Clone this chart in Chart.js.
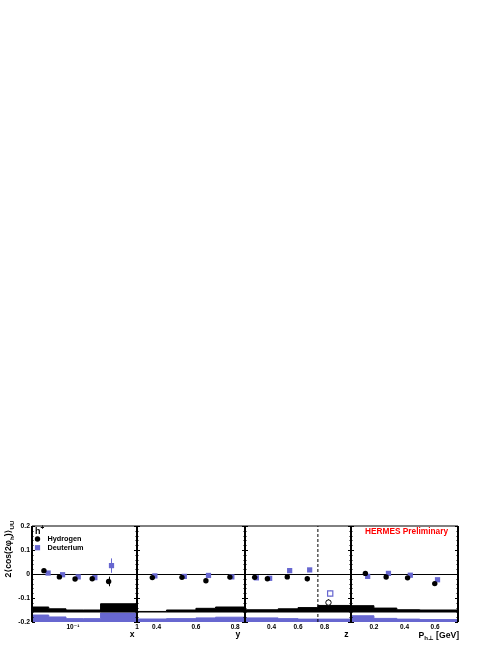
<!DOCTYPE html>
<html>
<head>
<meta charset="utf-8">
<script src="https://cdn.jsdelivr.net/npm/chart.js@4.4.0/dist/chart.umd.min.js"></script>
<style>
  html, body { margin: 0; padding: 0; background: #fff; }
  #wrap { position: relative; width: 498px; height: 645px; }
  #wrap canvas { position: absolute; left: 0; top: 0; }
</style>
</head>
<body>
<div id="wrap">
  <canvas id="panelX" width="498" height="645"></canvas>
  <canvas id="panelY" width="498" height="645"></canvas>
  <canvas id="panelZ" width="498" height="645"></canvas>
  <canvas id="panelP" width="498" height="645"></canvas>
</div>
<script>
// ---- data ----
// x panel (log scale)
const xH = [0.0353, 0.0615, 0.108, 0.200, 0.361];
const valXH = [0.014, -0.012, -0.021, -0.020, -0.031];
const errXH = [0.005, 0.004, 0.004, 0.005, 0.020];
const xD = [0.041, 0.069, 0.121, 0.220, 0.400];
const valXD = [0.004, -0.003, -0.012, -0.015, 0.035];
const errXD = [0.005, 0.004, 0.004, 0.005, 0.030];
const xBinEdges = [0.023, 0.042, 0.078, 0.145, 0.27, 1];
const xSysH = [-0.1375, -0.145, -0.150, -0.150, -0.124];
const xSysD = [-0.171, -0.179, -0.186, -0.186, -0.1625];

// y panel
const yH = [0.378, 0.529, 0.651, 0.773];
const valYH = [-0.015, -0.014, -0.028, -0.013];
const errYH = [0.004, 0.004, 0.004, 0.005];
const yD = [0.391, 0.541, 0.664, 0.783];
const valYD = [-0.008, -0.010, -0.006, -0.012];
const errYD = [0.004, 0.004, 0.004, 0.005];
const yBinEdges = [0.3, 0.45, 0.6, 0.7, 0.85];
const ySysH = [-0.156, -0.150, -0.143, -0.1375];
const ySysD = [-0.1875, -0.186, -0.183, -0.180];

// z panel
const zH = [0.273, 0.369, 0.519, 0.670];
const valZH = [-0.014, -0.020, -0.012, -0.020];
const errZH = [0.004, 0.004, 0.005, 0.010];
const zD = [0.286, 0.386, 0.537, 0.688];
const valZD = [-0.016, -0.018, 0.014, 0.017];
const errZD = [0.004, 0.004, 0.005, 0.006];
const zHout = [0.830];
const valZHout = [-0.119];
const errZHout = [0.014];
const zDout = [0.843];
const valZDout = [-0.081];
const errZDout = [0.012];
const zCut = 0.75;
const zBinEdges = [0.2, 0.45, 0.6, 0.75, 1.0];
const zSysH = [-0.149, -0.145, -0.140, -0.131];
const zSysD = [-0.183, -0.186, -0.188, -0.188];

// Ph_perp panel
const pH = [0.144, 0.280, 0.420, 0.598];
const valPH = [0.0025, -0.0125, -0.016, -0.040];
const errPH = [0.004, 0.004, 0.005, 0.006];
const pD = [0.159, 0.295, 0.438, 0.616];
const valPD = [-0.010, 0.0025, -0.005, -0.024];
const errPD = [0.004, 0.004, 0.005, 0.006];
const pBinEdges = [0.05, 0.2, 0.35, 0.5, 0.75];
const pSysH = [-0.132, -0.142, -0.149, -0.150];
const pSysD = [-0.174, -0.185, -0.188, -0.190];

// tick labels
const yAxisTicks = [-0.2, -0.1, 0, 0.1, 0.2];
const xTicks = [0.1, 1];
const yTicks = [0.4, 0.6, 0.8];
const zTicks = [0.4, 0.6, 0.8];
const pTicks = [0.2, 0.4, 0.6];

const sysBaseH = -0.16;
const sysBaseD = -0.2;

// ---- styling ----
const BLUE = '#6767d0';
const FONT = '"Liberation Sans", "DejaVu Sans", Arial, sans-serif';
const FRAME_TOP = 526;
const PANEL_EDGES = [32, 137, 245, 351, 458];

function pts(xs, ys) {
    return xs.map((x, i) => ({ x: x, y: ys[i] }));
}

function stepPts(edges, vals) {
    const out = vals.map((v, i) => ({ x: edges[i], y: v }));
    out.push({ x: edges[edges.length - 1], y: vals[vals.length - 1] });
    return out;
}

function hydrogen(xs, ys, errs, open) {
    return {
        data: pts(xs, ys), errors: errs, errorColor: '#000', showLine: false,
        pointStyle: 'circle', pointRadius: 2.7,
        pointBackgroundColor: open ? '#fff' : '#000',
        pointBorderColor: '#000', pointBorderWidth: open ? 1 : 0
    };
}

function deuterium(xs, ys, errs, open) {
    return {
        data: pts(xs, ys), errors: errs, errorColor: BLUE, showLine: false,
        pointStyle: 'rect', pointRadius: 3.7,
        pointBackgroundColor: open ? '#fff' : BLUE,
        pointBorderColor: BLUE, pointBorderWidth: open ? 1.2 : 0
    };
}

function band(edges, vals, color, base) {
    return {
        data: stepPts(edges, vals), stepped: true, pointRadius: 0,
        borderColor: color, borderWidth: 1, backgroundColor: color,
        fill: { value: base }
    };
}

// error bars drawn through the chart scales
const errorBars = {
    id: 'errorBars',
    beforeDatasetsDraw(chart) {
        const { ctx, scales: { x, y } } = chart;
        chart.data.datasets.forEach(ds => {
            if (!ds.errors) return;
            ctx.save();
            ctx.strokeStyle = ds.errorColor;
            ctx.lineWidth = 1;
            ds.data.forEach((p, i) => {
                const e = ds.errors[i];
                const px = Math.round(x.getPixelForValue(p.x)) + 0.5;
                ctx.beginPath();
                ctx.moveTo(px, y.getPixelForValue(p.y - e));
                ctx.lineTo(px, y.getPixelForValue(p.y + e));
                ctx.stroke();
            });
            ctx.restore();
        });
    }
};

// ROOT-like frame with inward tick marks on both vertical edges
const frame = {
    id: 'frame',
    afterDatasetsDraw(chart) {
        const { ctx, chartArea: a, scales: { y } } = chart;
        ctx.save();
        ctx.strokeStyle = '#000';
        ctx.lineWidth = 1;
        ctx.beginPath();
        ctx.moveTo(a.left, a.top);
        ctx.lineTo(a.right, a.top);
        ctx.stroke();
        y.ticks.forEach(t => {
            const py = Math.round(y.getPixelForValue(t.value)) + 0.5;
            const len = Math.abs(Math.round(t.value * 100)) % 10 === 0 ? 3 : 1.5;
            ctx.beginPath();
            ctx.moveTo(a.left, py); ctx.lineTo(a.left + len, py);
            ctx.moveTo(a.right, py); ctx.lineTo(a.right - len, py);
            ctx.stroke();
        });
        ctx.lineWidth = 2;
        ctx.beginPath();
        ctx.moveTo(a.left, a.top); ctx.lineTo(a.left, a.bottom);
        ctx.moveTo(a.right, a.top); ctx.lineTo(a.right, a.bottom);
        ctx.stroke();
        ctx.restore();
    }
};

// text with sub/superscripts: parts = [[text, 'n'|'sub'|'sup'], ...]
function richWidth(ctx, parts, size) {
    let w = 0;
    parts.forEach(([t, k]) => {
        ctx.font = 'bold ' + (k === 'n' ? size : size * 0.72) + 'px ' + FONT;
        w += ctx.measureText(t).width;
    });
    return w;
}

function drawRich(ctx, parts, size, x, y) {
    ctx.textBaseline = 'middle';
    ctx.textAlign = 'left';
    parts.forEach(([t, k]) => {
        const s = k === 'n' ? size : size * 0.72;
        ctx.font = 'bold ' + s + 'px ' + FONT;
        const dy = k === 'sub' ? size * 0.35 : (k === 'sup' ? -size * 0.38 : 0);
        ctx.fillText(t, x, y + dy);
        x += ctx.measureText(t).width;
    });
}

const panelXText = {
    id: 'panelXText',
    afterDraw(chart) {
        const { ctx, chartArea: a } = chart;
        ctx.save();
        ctx.fillStyle = '#000';
        // y axis title
        const title = [['2\u27e8cos(2\u03c6', 'n'], ['h', 'sub'], [')\u27e9', 'n'], ['UU', 'sub']];
        const tw = richWidth(ctx, title, 8.6);
        ctx.translate(9, 549);
        ctx.rotate(-Math.PI / 2);
        drawRich(ctx, title, 8.6, -tw / 2, 0);
        ctx.setTransform(1, 0, 0, 1, 0, 0);
        // legend
        drawRich(ctx, [['h', 'n'], ['+', 'sup']], 9, a.left + 3, a.top + 6);
        const items = chart.data.datasets.slice(0, 2);
        const names = ['Hydrogen', 'Deuterium'];
        items.forEach((ds, i) => {
            const cy = a.top + 13 + i * 8.7;
            ctx.fillStyle = ds.pointBackgroundColor;
            Chart.helpers.drawPoint(ctx, { pointStyle: ds.pointStyle, radius: ds.pointRadius, rotation: 0, borderWidth: 0 }, a.left + 5.5, cy);
            ctx.fillStyle = '#000';
            ctx.font = 'bold 7.3px ' + FONT;
            ctx.textBaseline = 'middle';
            ctx.fillText(names[i], a.left + 15.5, cy);
        });
        ctx.restore();
    }
};

const panelPText = {
    id: 'panelPText',
    afterDraw(chart) {
        const { ctx, chartArea: a } = chart;
        ctx.save();
        ctx.fillStyle = '#ff0000';
        ctx.font = 'bold 8.3px ' + FONT;
        ctx.textAlign = 'right';
        ctx.textBaseline = 'middle';
        ctx.fillText('HERMES Preliminary', a.right - 10, a.top + 5.5);
        ctx.fillStyle = '#000';
        const t = [['P', 'n'], ['h\u22a5', 'sub'], [' [GeV]', 'n']];
        const w = richWidth(ctx, t, 8.6);
        drawRich(ctx, t, 8.6, a.right + 1 - w, 635.5);
        ctx.restore();
    }
};

function makePanel(id, idx, xScale, datasets, extra) {
    const left = PANEL_EDGES[idx];
    const right = PANEL_EDGES[idx + 1];
    const showY = idx === 0;
    // the first panel keeps a y-scale box wide enough for its labels
    const yWidth = showY ? left : 0;
    return new Chart(document.getElementById(id), {
        type: 'line',
        data: { datasets: datasets },
        options: {
            responsive: false,
            animation: false,
            layout: { padding: { left: left - yWidth, right: 498 - right, top: FRAME_TOP, bottom: 0 } },
            plugins: { legend: { display: false }, tooltip: { enabled: false } },
            scales: {
                x: Object.assign({
                    afterFit: s => { s.height = 23; },
                    grid: { display: false, drawTicks: false },
                    border: { display: false },
                    ticks: {
                        color: '#000', padding: 1, maxRotation: 0, autoSkip: false,
                        font: { family: FONT, size: 6.5, weight: 'bold' }
                    },
                    title: {
                        display: !!xScale.titleText, text: xScale.titleText, align: 'end', color: '#000',
                        font: { family: FONT, size: 8.6, weight: 'bold' }, padding: { top: 0, bottom: 5 }
                    }
                }, xScale.opts),
                y: {
                    min: -0.2, max: 0.2,
                    afterFit: s => { s.width = yWidth; },
                    border: { display: false },
                    grid: {
                        drawTicks: false, lineWidth: 1,
                        color: c => (c.tick && c.tick.value === 0 ? '#000' : 'rgba(0,0,0,0)')
                    },
                    ticks: {
                        display: showY, stepSize: 0.02, autoSkip: false, padding: 2, color: '#000',
                        font: { family: FONT, size: 6.8, weight: 'bold' },
                        callback: v => {
                            const r = Math.round(v * 10) / 10;
                            return yAxisTicks.includes(r) && Math.abs(v - r) < 1e-6 ? String(r) : '';
                        }
                    }
                }
            }
        },
        plugins: [errorBars, frame].concat(extra || [])
    });
}

function fixedTicks(values) {
    return s => { s.ticks = values.map(v => ({ value: v })); };
}

makePanel('panelX', 0, {
    titleText: 'x ',
    opts: {
        type: 'logarithmic', min: 0.023, max: 1,
        afterBuildTicks: fixedTicks(xTicks)
    }
}, [
    hydrogen(xH, valXH, errXH),
    deuterium(xD, valXD, errXD),
    band(xBinEdges, xSysH, '#000', sysBaseH),
    band(xBinEdges, xSysD, BLUE, sysBaseD)
], [panelXText]);
// log tick labels
Chart.getChart('panelX').options.scales.x.ticks.callback = v => (v === 1 ? '1' : '10\u207b\u00b9');
Chart.getChart('panelX').update();

makePanel('panelY', 1, {
    titleText: 'y  ',
    opts: { type: 'linear', min: 0.3, max: 0.85, afterBuildTicks: fixedTicks(yTicks) }
}, [
    hydrogen(yH, valYH, errYH),
    deuterium(yD, valYD, errYD),
    band(yBinEdges, ySysH, '#000', sysBaseH),
    band(yBinEdges, ySysD, BLUE, sysBaseD)
]);

makePanel('panelZ', 2, {
    titleText: 'z ',
    opts: { type: 'linear', min: 0.2, max: 1.0, afterBuildTicks: fixedTicks(zTicks) }
}, [
    hydrogen(zH, valZH, errZH),
    deuterium(zD, valZD, errZD),
    hydrogen(zHout, valZHout, errZHout, true),
    deuterium(zDout, valZDout, errZDout, true),
    {
        data: [{ x: zCut, y: -0.2 }, { x: zCut, y: 0.2 }], pointRadius: 0,
        borderColor: '#000', borderWidth: 1, borderDash: [3, 2]
    },
    band(zBinEdges, zSysH, '#000', sysBaseH),
    band(zBinEdges, zSysD, BLUE, sysBaseD)
]);

makePanel('panelP', 3, {
    titleText: '',
    opts: { type: 'linear', min: 0.05, max: 0.75, afterBuildTicks: fixedTicks(pTicks) }
}, [
    hydrogen(pH, valPH, errPH),
    deuterium(pD, valPD, errPD),
    band(pBinEdges, pSysH, '#000', sysBaseH),
    band(pBinEdges, pSysD, BLUE, sysBaseD)
], [panelPText]);
</script>
</body>
</html>
